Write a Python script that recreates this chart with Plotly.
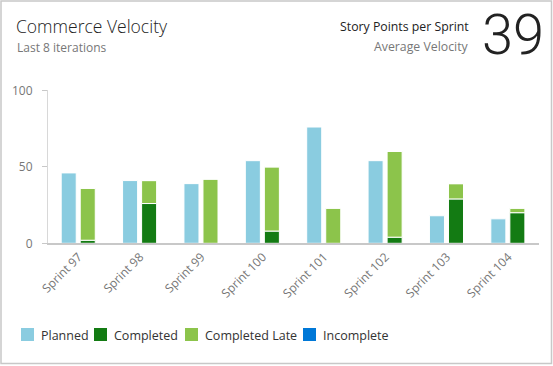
import plotly.graph_objects as go

W, H = 553, 366

sprints = ["Sprint 97", "Sprint 98", "Sprint 99", "Sprint 100",
           "Sprint 101", "Sprint 102", "Sprint 103", "Sprint 104"]
planned = [46, 41, 39, 54, 76, 54, 18, 16]
completed = [2, 26, 0, 8, 0, 4, 29, 20]
completed_late = [34, 15, 42, 42, 23, 56, 10, 3]
incomplete = [0, 0, 0, 0, 0, 0, 0, 0]
y_ticks = [0, 50, 100]

legend_names = ["Planned", "Completed", "Completed Late", "Incomplete"]
legend_x = [21, 94, 185, 303]

title = "Commerce Velocity"
subtitle = "Last 8 iterations"
metric_label = "Story Points per Sprint"
metric_sub = "Average Velocity"
avg_velocity = round(sum(c + l for c, l in zip(completed, completed_late)) / len(sprints))

C_PLANNED = "#8ACCE0"
C_COMPLETED = "#137B13"
C_LATE = "#8CC44B"
C_INCOMPLETE = "#0078D7"
colors = [C_PLANNED, C_COMPLETED, C_LATE, C_INCOMPLETE]

FONT = "Segoe UI, Open Sans, Noto Sans, sans-serif"
BIG_FONT = "Segoe UI Light, Roboto, Open Sans, sans-serif"

def px(x):
    return x / W

def py(y):
    return 1 - y / H

bw = 0.245
line = dict(color="white", width=1)
base_late = completed
base_inc = [c + l for c, l in zip(completed, completed_late)]

fig = go.Figure()
fig.add_bar(x=sprints, y=planned, name="Planned", marker=dict(color=C_PLANNED, line=line),
            width=bw, offset=-0.285, showlegend=False)
fig.add_bar(x=sprints, y=completed, name="Completed", marker=dict(color=C_COMPLETED, line=line),
            width=bw, offset=0.025, showlegend=False)
fig.add_bar(x=sprints, y=completed_late, base=base_late, name="Completed Late",
            marker=dict(color=C_LATE, line=line), width=bw, offset=0.025, showlegend=False)
fig.add_bar(x=sprints, y=incomplete, base=base_inc, name="Incomplete",
            marker=dict(color=C_INCOMPLETE, line=line), width=bw, offset=0.025, showlegend=False)

fig.update_layout(
    width=W, height=H,
    barmode="overlay",
    margin=dict(l=0, r=0, t=0, b=0, autoexpand=False),
    paper_bgcolor="white", plot_bgcolor="white",
    font=dict(family=FONT, size=12, color="#333333"),
    xaxis=dict(domain=[px(48), px(539)], showline=True, linecolor="#c8c8c8", linewidth=2,
               ticks="", tickangle=-45, tickfont=dict(size=12, color="#777777"),
               showgrid=False, fixedrange=True, automargin=False),
    yaxis=dict(domain=[py(243.3), py(90.3)], range=[0, 100], tickvals=y_ticks,
               showline=True, linecolor="#d8d8d8", linewidth=1, ticks="outside",
               ticklen=5, tickcolor="#c8c8c8", showgrid=False, zeroline=False,
               tickfont=dict(size=12, color="#777777"), ticklabelstandoff=7,
               automargin=False),
    showlegend=False,
)

# header texts
fig.add_annotation(text=title, x=px(14), y=py(26), xref="paper", yref="paper",
                   xanchor="left", yanchor="middle", showarrow=False,
                   font=dict(size=17.5, color="#222222", family=FONT, weight=300))
fig.add_annotation(text=subtitle, x=px(15), y=py(47), xref="paper", yref="paper",
                   xanchor="left", yanchor="middle", showarrow=False,
                   font=dict(size=12, color="#777777", family=FONT))
fig.add_annotation(text=metric_label, x=px(471), y=py(27), xref="paper", yref="paper",
                   xanchor="right", yanchor="middle", showarrow=False,
                   font=dict(size=12.3, color="#222222", family=FONT))
fig.add_annotation(text=metric_sub, x=px(471), y=py(46), xref="paper", yref="paper",
                   xanchor="right", yanchor="middle", showarrow=False,
                   font=dict(size=12.3, color="#777777", family=FONT))
fig.add_annotation(text=str(avg_velocity), x=px(480), y=py(35), xref="paper", yref="paper",
                   xanchor="left", yanchor="middle", showarrow=False,
                   font=dict(size=56, color="#222222", family=BIG_FONT, weight=300))

# legend (drawn manually to match spacing)
for name, col, lx in zip(legend_names, colors, legend_x):
    fig.add_shape(type="rect", xref="paper", yref="paper", x0=px(lx), x1=px(lx + 13),
                  y0=py(341), y1=py(328), fillcolor=col, line=dict(width=0))
    fig.add_annotation(text=name, x=px(lx + 18), y=py(335), xref="paper", yref="paper",
                       xanchor="left", yanchor="middle", showarrow=False,
                       font=dict(size=12.5, color="#333333", family=FONT))

# card border
fig.add_shape(type="rect", xref="paper", yref="paper", x0=px(1), x1=px(551.5),
              y0=py(363.5), y1=py(1), line=dict(color="#c8c8c8", width=1.5),
              fillcolor="rgba(0,0,0,0)", layer="below")

fig.write_html("out.html", config={"displayModeBar": False},
               post_script="document.body.style.margin='0';document.body.style.overflow='hidden';")
